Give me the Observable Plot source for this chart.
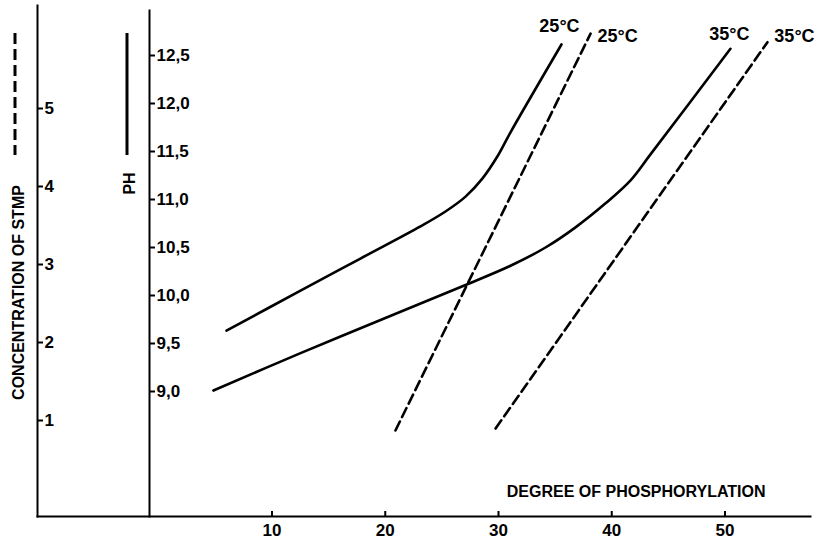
<!DOCTYPE html>
<html><head><meta charset="utf-8">
<script src="https://cdn.jsdelivr.net/npm/d3@7"></script>
<script src="https://cdn.jsdelivr.net/npm/@observablehq/plot@0.6"></script>
<style>
body{margin:0;background:#fff}
#chart{position:relative;width:818px;height:539px;background:#fff}
#chart svg{position:absolute;left:0;top:0;overflow:visible;background:transparent !important}
</style></head><body><div id="chart"></div>
<script>
// ---- data ----
const xTicks = [10, 20, 30, 40, 50];
const phTicks = [9.0, 9.5, 10.0, 10.5, 11.0, 11.5, 12.0, 12.5];
const stmpTicks = [1, 2, 3, 4, 5];

// pH curves (solid): degree of phosphorylation vs pH
const ph25X = [5.98, 12.52, 17.81, 23.11, 25.32, 27.09, 28.59, 29.91, 31.06, 35.56];
const ph25Y = [9.635, 10.05, 10.385, 10.72, 10.875, 11.03, 11.22, 11.45, 11.70, 12.615];
const ph35X = [4.83, 12.52, 21.35, 27.09, 31.06, 34.15, 36.80, 39.45, 41.66, 43.42, 50.48];
const ph35Y = [9.01, 9.40, 9.83, 10.11, 10.31, 10.50, 10.71, 10.96, 11.20, 11.47, 12.57];

// STMP concentration lines (dashed)
const st25X = [20.90, 38.13];
const st25Y = [0.872, 5.96];
const st35X = [29.74, 53.75];
const st35Y = [0.897, 5.85];

const seriesLabels = ["25°C", "25°C", "35°C", "35°C"];
const titles = {x: "DEGREE OF PHOSPHORYLATION", stmp: "CONCENTRATION OF STMP", ph: "PH"};

// ---- build tables ----
const zip = (xs, ys) => xs.map((x, i) => ({x, v: ys[i]}));
const solid25 = zip(ph25X, ph25Y), solid35 = zip(ph35X, ph35Y);
const dash25 = zip(st25X, st25Y), dash35 = zip(st35X, st35Y);
const last = a => [a[a.length - 1]];

const FONT = '"Liberation Sans", Arial, sans-serif';
const W = 818, H = 539, MB = 23;
const xScale = {domain: [0, 50], range: [158.25, 724.5], axis: null};
const fmt = d => d.toFixed(1).replace(".", ",");
const baseStyle = {background: "transparent", fontFamily: FONT, color: "black", fontWeight: "bold"};

// pH axis + solid curves
const plotA = Plot.plot({
  width: W, height: H, marginLeft: 0, marginRight: W - 149, marginTop: 10, marginBottom: MB,
  x: xScale, y: {domain: [9, 12.5], range: [391, 55]},
  style: baseStyle,
  marks: [
    Plot.frame({anchor: "right", strokeWidth: 2}),
    Plot.axisY(phTicks, {anchor: "right", tickSize: 5, tickPadding: 2, tickFormat: fmt, fontSize: 17, fontWeight: "bold", label: null, strokeWidth: 2}),
    Plot.line(solid25, {x: "x", y: "v", curve: "catmull-rom", strokeWidth: 2.6}),
    Plot.line(solid35, {x: "x", y: "v", curve: "catmull-rom", strokeWidth: 2.6}),
    Plot.text(last(solid25), {x: "x", y: "v", text: () => seriesLabels[0], dx: -2, dy: -18, fontSize: 18, fontWeight: "bold"}),
    Plot.text(last(solid35), {x: "x", y: "v", text: () => seriesLabels[2], dx: -1, dy: -15, fontSize: 18, fontWeight: "bold"}),
    Plot.text([titles.ph], {frameAnchor: "left", textAnchor: "middle", rotate: -90, dx: 129, dy: 183 - (10 + H - MB) / 2, fontWeight: "bold", fontSize: 16})
  ]
});

// STMP axis + dashed lines
const plotB = Plot.plot({
  width: W, height: H, marginLeft: 0, marginRight: W - 37, marginTop: 5, marginBottom: MB,
  x: xScale, y: {domain: [1, 5], range: [420, 108]},
  style: baseStyle,
  marks: [
    Plot.frame({anchor: "right", strokeWidth: 2}),
    Plot.axisY(stmpTicks, {anchor: "right", tickSize: 5, tickPadding: 2, tickFormat: d => String(d), fontSize: 17, fontWeight: "bold", label: null, strokeWidth: 2}),
    Plot.line(dash25, {x: "x", y: "v", strokeWidth: 2.6, strokeDasharray: "10,5"}),
    Plot.line(dash35, {x: "x", y: "v", strokeWidth: 2.6, strokeDasharray: "10,5"}),
    Plot.text(last(dash25), {x: "x", y: "v", text: () => seriesLabels[1], dx: 27, dy: 3, fontSize: 18, fontWeight: "bold"}),
    Plot.text(last(dash35), {x: "x", y: "v", text: () => seriesLabels[3], dx: 27, dy: -6, fontSize: 18, fontWeight: "bold"}),
    Plot.text([titles.stmp], {frameAnchor: "left", textAnchor: "middle", rotate: -90, dx: 18, dy: 292 - (5 + H - MB) / 2, fontWeight: "bold", fontSize: 16})
  ]
});

// x axis
const plotC = Plot.plot({
  width: W, height: H, marginLeft: 37, marginRight: 8, marginTop: 5, marginBottom: MB,
  x: xScale,
  style: baseStyle,
  marks: [
    Plot.frame({anchor: "bottom", strokeWidth: 2}),
    Plot.axisX(xTicks, {tickSize: 0, tickPadding: 7, fontSize: 17, fontWeight: "bold", label: null}),
    Plot.ruleX(xTicks, {x: d => d, insetTop: (H - MB - 5) - 5, strokeWidth: 2}),
    Plot.text([titles.x], {frameAnchor: "bottom-right", dx: -(W - 8 - 765), dy: -20, textAnchor: "end", fontWeight: "bold", fontSize: 16})
  ]
});

const chart = document.getElementById("chart");
chart.append(plotC, plotB, plotA);

// legend keys beside the two y-axis titles
const ns = "http://www.w3.org/2000/svg";
const key = document.createElementNS(ns, "svg");
key.setAttribute("width", W); key.setAttribute("height", H);
[[15, "11,5"], [127, null]].forEach(([x, dash]) => {
  const l = document.createElementNS(ns, "line");
  l.setAttribute("x1", x); l.setAttribute("x2", x);
  l.setAttribute("y1", 33); l.setAttribute("y2", 155);
  l.setAttribute("stroke", "black"); l.setAttribute("stroke-width", 3);
  if (dash) l.setAttribute("stroke-dasharray", dash);
  key.appendChild(l);
});
chart.append(key);
</script></body></html>
